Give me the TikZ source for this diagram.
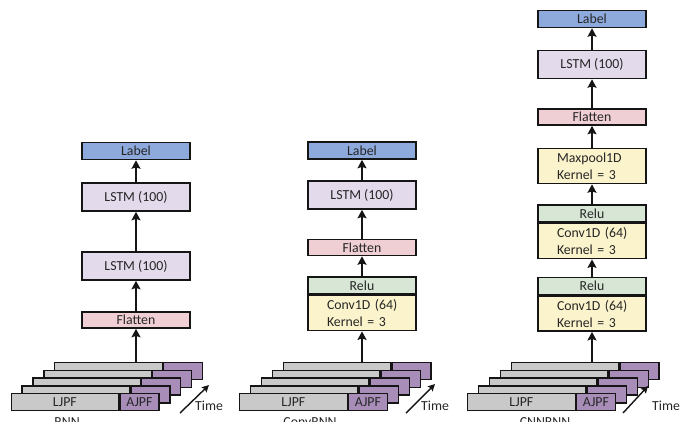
\documentclass[tikz,border=0pt]{standalone}
\usepackage{fontspec}
\setmainfont{Carlito}
\usetikzlibrary{arrows.meta}

\definecolor{labelblue}{HTML}{8EA9DB}
\definecolor{lstmlav}{HTML}{E3DAEB}
\definecolor{flatpink}{HTML}{EFCFD4}
\definecolor{relugreen}{HTML}{D7E6D5}
\definecolor{convyellow}{HTML}{FAF3CB}
\definecolor{stackgray}{HTML}{C9C9C9}
\definecolor{stackpurple}{HTML}{A88DB9}
\definecolor{edgeblack}{HTML}{151515}
\definecolor{inkgray}{HTML}{262626}

\tikzset{
  layerbox/.style={draw=edgeblack, line width=1.6pt, minimum width=108pt,
    inner sep=0pt, text=inkgray, font=\fontsize{13.8}{16}\selectfont},
  labelbox/.style={layerbox, fill=labelblue, minimum height=17pt},
  lstmbox/.style={layerbox, fill=lstmlav, minimum height=28pt},
  flatbox/.style={layerbox, fill=flatpink, minimum height=16pt},
  relubox/.style={layerbox, fill=relugreen, minimum height=17pt},
  convbox/.style={layerbox, fill=convyellow, minimum height=35pt,
    text width=70pt, inner xsep=19pt, align=left,
    font=\fontsize{13.8}{17}\selectfont},
  stackcell/.style={draw=edgeblack, line width=1.3pt, minimum height=17pt,
    inner sep=0pt, anchor=north west, text=inkgray,
    font=\fontsize{13.8}{16}\selectfont},
  graycell/.style={stackcell, fill=stackgray, minimum width=107.5pt},
  purplecell/.style={stackcell, fill=stackpurple, minimum width=39pt},
  flowarrow/.style={draw=edgeblack, line width=1.9pt,
    -{Stealth[length=8.5pt, width=9pt, inset=1.5pt]}},
  timearrow/.style={draw=edgeblack, line width=1.4pt,
    -{Stealth[length=7pt, width=7pt, inset=1.2pt]}},
  plaintext/.style={text=inkgray, inner sep=0pt, font=\fontsize{13.8}{16}\selectfont},
}

% Five stacked time slices of joint features; #1 = name prefix, #2 = left x
\newcommand\jointstack[2]{%
  \foreach \k in {4,3,2,1}{%
    \node[graycell] (#1-\k-g) at ({#2+10.9*\k}, {393-7.8*\k}) {};
    \node[purplecell] (#1-\k-p) at (#1-\k-g.north east) {};
  }
  \node[graycell] (#1-0-g) at (#2, 393) {LJPF};
  \node[purplecell] (#1-0-p) at (#1-0-g.north east) {AJPF};
}

\begin{document}
\begin{tikzpicture}[x=1pt, y=-1pt]
\clip (0,0) rectangle (690,421);
\fill[white] (0,0) rectangle (690,421);

% ---------------- RNN ----------------
\jointstack{sa}{10.5}
\node[labelbox] (la) at (136,151) {Label};
\node[lstmbox]  (lsa2) at (136,197) {LSTM (100)};
\node[lstmbox]  (lsa1) at (136,266) {LSTM (100)};
\node[flatbox]  (fa) at (136,320) {Flatten};
\draw[flowarrow] (fa |- sa-4-g.north) -- (fa.south);
\draw[flowarrow] (fa.north) -- (lsa1.south);
\draw[flowarrow] (lsa1.north) -- (lsa2.south);
\draw[flowarrow] (lsa2.north) -- (la.south);
\coordinate (ta0) at (180,413);
\coordinate (ta1) at (209,385);
\draw[timearrow] (ta0) -- (ta1);
\node[plaintext, anchor=west] (tta) at (195,406) {Time};
\node[plaintext, anchor=base] (ca) at (67,426) {RNN};

% ---------------- ConvRNN ----------------
\jointstack{sb}{239}
\node[labelbox] (lb) at (362,150.5) {Label};
\node[lstmbox]  (lsb) at (362,195) {LSTM (100)};
\node[flatbox]  (fb) at (362,247.5) {Flatten};
\node[relubox]  (rb) at (362,285.5) {Relu};
\node[convbox, anchor=north] (cb) at (rb.south) {Conv1D~(64)\\Kernel~=~3};
\draw[flowarrow] (cb |- sb-4-g.north) -- (cb.south);
\draw[flowarrow] (rb.north) -- (fb.south);
\draw[flowarrow] (fb.north) -- (lsb.south);
\draw[flowarrow] (lsb.north) -- (lb.south);
\coordinate (tb0) at (406,413);
\coordinate (tb1) at (435,384);
\draw[timearrow] (tb0) -- (tb1);
\node[plaintext, anchor=west] (ttb) at (421,406) {Time};
\node[plaintext, anchor=base] (cbcap) at (310,426) {ConvRNN};

% ---------------- CNNRNN ----------------
\jointstack{sc}{467}
\node[labelbox] (lc) at (592,19) {Label};
\node[lstmbox]  (lsc) at (592,64.5) {LSTM (100)};
\node[flatbox]  (fc) at (592,117) {Flatten};
\node[convbox]  (mc) at (592,166) {Maxpool1D\\Kernel~=~3};
\node[relubox]  (rc2) at (592,213.5) {Relu};
\node[convbox, anchor=north] (cc2) at (rc2.south) {Conv1D~(64)\\Kernel~=~3};
\node[relubox]  (rc1) at (592,286) {Relu};
\node[convbox, anchor=north] (cc1) at (rc1.south) {Conv1D~(64)\\Kernel~=~3};
\draw[flowarrow] (cc1 |- sc-4-g.north) -- (cc1.south);
\draw[flowarrow] (rc1.north) -- (cc2.south);
\draw[flowarrow] (rc2.north) -- (mc.south);
\draw[flowarrow] (mc.north) -- (fc.south);
\draw[flowarrow] (fc.north) -- (lsc.south);
\draw[flowarrow] (lsc.north) -- (lc.south);
\coordinate (tc0) at (623,413);
\coordinate (tc1) at (648,386);
\draw[timearrow] (tc0) -- (tc1);
\node[plaintext, anchor=west] (ttc) at (652,406) {Time};
\node[plaintext, anchor=base] (cccap) at (545,426) {CNNRNN};
\end{tikzpicture}
\end{document}
